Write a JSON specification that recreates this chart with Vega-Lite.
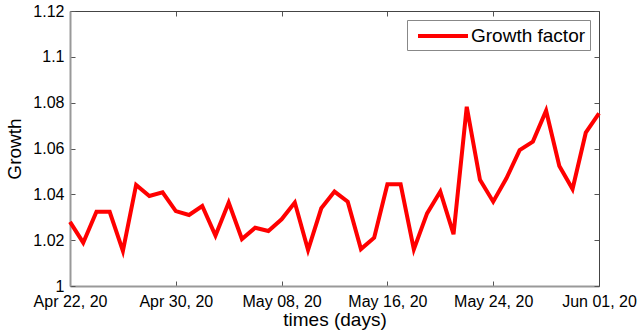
{
  "$schema": "https://vega.github.io/schema/vega-lite/v6.json",
  "autosize": "none",
  "width": 529,
  "height": 275,
  "padding": {"left": 70, "top": 11, "right": 38, "bottom": 49},
  "background": "white",
  "config": {
    "font": "Liberation Sans",
    "view": {"stroke": null},
    "axis": {"grid": false, "labelFont": "Liberation Sans", "titleFont": "Liberation Sans", "labelColor": "#000", "titleColor": "#000", "labelFontSize": 16, "titleFontSize": 19, "titleFontWeight": "normal"}
  },
  "data": {"values": [
    {"date": "2020-04-22", "growth": 1.028},
    {"date": "2020-04-23", "growth": 1.0189},
    {"date": "2020-04-24", "growth": 1.0324},
    {"date": "2020-04-25", "growth": 1.0324},
    {"date": "2020-04-26", "growth": 1.0153},
    {"date": "2020-04-27", "growth": 1.0441},
    {"date": "2020-04-28", "growth": 1.0393},
    {"date": "2020-04-29", "growth": 1.0409},
    {"date": "2020-04-30", "growth": 1.0327},
    {"date": "2020-05-01", "growth": 1.031},
    {"date": "2020-05-02", "growth": 1.0349},
    {"date": "2020-05-03", "growth": 1.022},
    {"date": "2020-05-04", "growth": 1.0364},
    {"date": "2020-05-05", "growth": 1.0205},
    {"date": "2020-05-06", "growth": 1.0254},
    {"date": "2020-05-07", "growth": 1.024},
    {"date": "2020-05-08", "growth": 1.0291},
    {"date": "2020-05-09", "growth": 1.0364},
    {"date": "2020-05-10", "growth": 1.0157},
    {"date": "2020-05-11", "growth": 1.0339},
    {"date": "2020-05-12", "growth": 1.0412},
    {"date": "2020-05-13", "growth": 1.0368},
    {"date": "2020-05-14", "growth": 1.0161},
    {"date": "2020-05-15", "growth": 1.0211},
    {"date": "2020-05-16", "growth": 1.0444},
    {"date": "2020-05-17", "growth": 1.0444},
    {"date": "2020-05-18", "growth": 1.016},
    {"date": "2020-05-19", "growth": 1.0317},
    {"date": "2020-05-20", "growth": 1.0412},
    {"date": "2020-05-21", "growth": 1.0226},
    {"date": "2020-05-22", "growth": 1.0782},
    {"date": "2020-05-23", "growth": 1.0463},
    {"date": "2020-05-24", "growth": 1.0368},
    {"date": "2020-05-25", "growth": 1.047},
    {"date": "2020-05-26", "growth": 1.0593},
    {"date": "2020-05-27", "growth": 1.063},
    {"date": "2020-05-28", "growth": 1.0765},
    {"date": "2020-05-29", "growth": 1.0524},
    {"date": "2020-05-30", "growth": 1.0423},
    {"date": "2020-05-31", "growth": 1.0669},
    {"date": "2020-06-01", "growth": 1.0753}
  ]},
  "resolve": {"axis": {"x": "independent", "y": "independent"}},
  "layer": [
    {
      "mark": {"type": "line", "strokeWidth": 4, "strokeJoin": "miter", "strokeCap": "butt"},
      "encoding": {
        "x": {"field": "date", "type": "temporal",
          "scale": {"type": "utc", "domain": [{"year": 2020, "month": 4, "date": 22, "utc": true}, {"year": 2020, "month": 6, "date": 1, "utc": true}], "nice": false},
          "axis": {"orient": "bottom", "title": "times (days)", "format": "%b %d, %y",
            "values": [
              {"year": 2020, "month": 4, "date": 22, "utc": true},
              {"year": 2020, "month": 4, "date": 30, "utc": true},
              {"year": 2020, "month": 5, "date": 8, "utc": true},
              {"year": 2020, "month": 5, "date": 16, "utc": true},
              {"year": 2020, "month": 5, "date": 24, "utc": true},
              {"year": 2020, "month": 6, "date": 1, "utc": true}],
            "tickSize": -5, "tickColor": "#555", "labelPadding": 12, "labelFlush": false, "labelOverlap": false,
            "domainColor": "#999", "domainWidth": 2, "titlePadding": 1}},
        "y": {"field": "growth", "type": "quantitative",
          "scale": {"domain": [1, 1.12], "nice": false, "zero": false},
          "axis": {"orient": "left", "title": "Growth", "format": ".2~f",
            "values": [1, 1.02, 1.04, 1.06, 1.08, 1.1, 1.12],
            "tickSize": -5, "tickColor": "#555", "labelPadding": 11, "labelOverlap": false,
            "domainColor": "#999", "domainWidth": 2, "titlePadding": 8}},
        "color": {"datum": "Growth factor", "type": "nominal",
          "scale": {"range": ["#ff0000"]},
          "legend": {"title": null, "orient": "none", "legendX": 337, "legendY": 9,
            "symbolType": "M-2.5,0H2.5", "symbolSize": 400, "symbolStrokeWidth": 4,
            "symbolOffset": 20, "labelOffset": 16,
            "labelFontSize": 19, "labelFont": "Liberation Sans", "labelColor": "#000",
            "strokeColor": "#888", "fillColor": "white", "padding": 4}}
      }
    },
    {
      "mark": {"type": "line", "opacity": 0},
      "encoding": {
        "x": {"field": "date", "type": "temporal",
          "axis": {"orient": "top", "title": null, "labels": false,
            "values": [
              {"year": 2020, "month": 4, "date": 22, "utc": true},
              {"year": 2020, "month": 4, "date": 30, "utc": true},
              {"year": 2020, "month": 5, "date": 8, "utc": true},
              {"year": 2020, "month": 5, "date": 16, "utc": true},
              {"year": 2020, "month": 5, "date": 24, "utc": true},
              {"year": 2020, "month": 6, "date": 1, "utc": true}],
            "tickSize": -5, "tickColor": "#555", "domainColor": "#444", "domainWidth": 1}},
        "y": {"field": "growth", "type": "quantitative",
          "axis": {"orient": "right", "title": null, "labels": false,
            "values": [1, 1.02, 1.04, 1.06, 1.08, 1.1, 1.12],
            "tickSize": -5, "tickColor": "#555", "domainColor": "#444", "domainWidth": 1}}
      }
    }
  ]
}
